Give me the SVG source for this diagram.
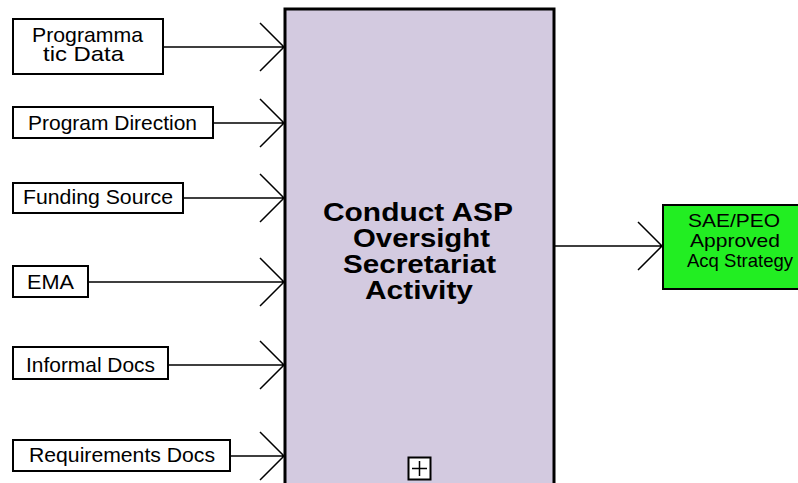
<svg xmlns="http://www.w3.org/2000/svg" width="798" height="483" viewBox="0 0 798 483">
<style>
.lbl{fill:#fff;stroke:#000;stroke-width:2}
.t{font-family:"Liberation Sans",Arial,sans-serif;font-size:21px;fill:#000}
.g{font-family:"Liberation Sans",Arial,sans-serif;font-size:19px;fill:#000}
.title{font-family:"Liberation Sans",Arial,sans-serif;font-size:25px;font-weight:bold;fill:#000}
.ln{stroke:#000;stroke-width:1.5;fill:none}
</style>
<rect width="798" height="483" fill="#fff"/>
<g id="activity">
<rect x="285" y="9" width="269" height="490" fill="#d3cae0" stroke="#000" stroke-width="3"/>
<text class="title" x="323" y="221" textLength="190" lengthAdjust="spacingAndGlyphs">Conduct ASP</text>
<text class="title" x="353" y="247" textLength="137" lengthAdjust="spacingAndGlyphs">Oversight</text>
<text class="title" x="343" y="273" textLength="153" lengthAdjust="spacingAndGlyphs">Secretariat</text>
<text class="title" x="365" y="299" textLength="108" lengthAdjust="spacingAndGlyphs">Activity</text>
<rect x="408.5" y="457.5" width="22" height="22" fill="#fff" stroke="#000" stroke-width="2"/>
<path d="M412 468.5H427M419.5 461V476" stroke="#000" stroke-width="1.5"/>
</g>
<g id="programmatic-data">
<rect class="lbl" x="13" y="19" width="150" height="55"/>
<text class="t" x="32" y="41.5" font-size="17" textLength="111" lengthAdjust="spacingAndGlyphs">Programma</text>
<text class="t" x="43" y="61" font-size="17" textLength="81" lengthAdjust="spacingAndGlyphs">tic Data</text>
</g>
<g id="program-direction">
<rect class="lbl" x="13" y="107" width="200" height="31"/>
<text class="t" x="28" y="130" textLength="169" lengthAdjust="spacingAndGlyphs">Program Direction</text>
</g>
<g id="funding-source">
<rect class="lbl" x="13" y="183" width="170" height="30"/>
<text class="t" x="23" y="204" textLength="150" lengthAdjust="spacingAndGlyphs">Funding Source</text>
</g>
<g id="ema">
<rect class="lbl" x="13" y="266" width="75" height="31"/>
<text class="t" x="27" y="289" textLength="47" lengthAdjust="spacingAndGlyphs">EMA</text>
</g>
<g id="informal-docs">
<rect class="lbl" x="13" y="347" width="155" height="32"/>
<text class="t" x="26" y="372" textLength="129" lengthAdjust="spacingAndGlyphs">Informal Docs</text>
</g>
<g id="requirements-docs">
<rect class="lbl" x="13" y="440" width="217" height="31"/>
<text class="t" x="29" y="462" textLength="186" lengthAdjust="spacingAndGlyphs">Requirements Docs</text>
</g>
<g id="sae-peo">
<rect x="663" y="205" width="145" height="84" fill="#22ee22" stroke="#000" stroke-width="2"/>
<text class="g" x="688" y="227" textLength="92" lengthAdjust="spacingAndGlyphs">SAE/PEO</text>
<text class="g" x="690" y="247" textLength="90" lengthAdjust="spacingAndGlyphs">Approved</text>
<text class="g" x="687" y="267" textLength="106" lengthAdjust="spacingAndGlyphs">Acq Strategy</text>
</g>
<g id="connectors">
<path class="ln" d="M163 47H284M260 23L284 47L260 71"/>
<path class="ln" d="M213 123H284M260 99L284 123L260 147"/>
<path class="ln" d="M183 198H284M260 174L284 198L260 222"/>
<path class="ln" d="M88 282H284M260 258L284 282L260 306"/>
<path class="ln" d="M168 365H284M260 341L284 365L260 389"/>
<path class="ln" d="M230 456H284M260 432L284 456L260 480"/>
<path class="ln" d="M555 246H662M638 222L662 246L638 270"/>
</g>
</svg>
